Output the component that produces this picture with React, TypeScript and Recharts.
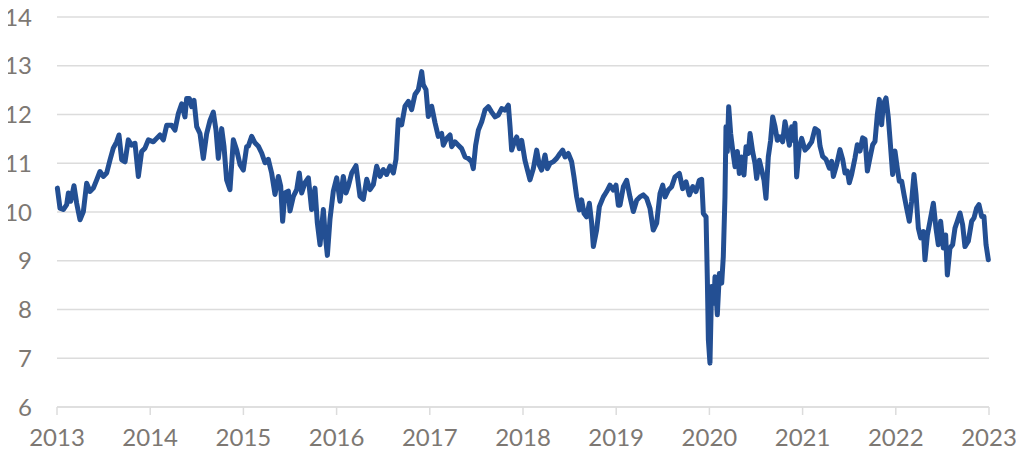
import React from 'react'
import { LineChart, Line, XAxis, YAxis, CartesianGrid } from 'recharts'

// Tick values
const yearTicks = [2013, 2014, 2015, 2016, 2017, 2018, 2019, 2020, 2021, 2022, 2023]
const valueTicks = [6, 7, 8, 9, 10, 11, 12, 13, 14]

// Series, [fractional year, value]
const seg2013: [number, number][] = [
  [2013.004, 10.49], [2013.032, 10.08], [2013.068, 10.05], [2013.104, 10.15], [2013.122, 10.39],
  [2013.147, 10.22], [2013.182, 10.54], [2013.211, 10.18], [2013.247, 9.84], [2013.283, 10.01],
  [2013.318, 10.59], [2013.354, 10.42], [2013.39, 10.49], [2013.426, 10.66], [2013.461, 10.83],
  [2013.497, 10.73], [2013.533, 10.8], [2013.569, 11.07], [2013.604, 11.31], [2013.64, 11.44],
  [2013.665, 11.58], [2013.694, 11.07], [2013.73, 11.03], [2013.765, 11.48], [2013.801, 11.37],
  [2013.837, 11.41], [2013.873, 10.73], [2013.908, 11.24], [2013.944, 11.31], [2013.98, 11.48],
]
const seg2014: [number, number][] = [
  [2014.034, 11.44], [2014.069, 11.51], [2014.105, 11.58], [2014.141, 11.48], [2014.177, 11.78],
  [2014.23, 11.78], [2014.266, 11.68], [2014.302, 12.02], [2014.338, 12.22], [2014.373, 11.95],
  [2014.391, 12.33], [2014.42, 12.33], [2014.445, 12.16], [2014.47, 12.29], [2014.499, 11.75],
  [2014.534, 11.61], [2014.57, 11.1], [2014.606, 11.61], [2014.642, 11.88], [2014.677, 12.05],
  [2014.706, 11.68], [2014.731, 11.1], [2014.767, 11.71], [2014.792, 11.34], [2014.82, 10.66],
  [2014.856, 10.46], [2014.892, 11.48], [2014.928, 11.27], [2014.964, 10.97], [2014.999, 10.86],
]
const seg2015: [number, number][] = [
  [2015.035, 11.34], [2015.053, 11.35], [2015.089, 11.55], [2015.124, 11.42], [2015.16, 11.35],
  [2015.196, 11.21], [2015.232, 11.01], [2015.267, 11.08], [2015.303, 10.8], [2015.339, 10.36],
  [2015.375, 10.73], [2015.4, 10.53], [2015.421, 9.81], [2015.446, 10.39], [2015.482, 10.43],
  [2015.5, 10.02], [2015.536, 10.32], [2015.572, 10.46], [2015.6, 10.8], [2015.625, 10.39],
  [2015.661, 10.6], [2015.697, 10.7], [2015.732, 10.05], [2015.768, 10.49], [2015.793, 9.78],
  [2015.822, 9.33], [2015.858, 10.05], [2015.876, 9.57], [2015.901, 9.11], [2015.929, 9.85],
  [2015.965, 10.43],
]
const seg2016: [number, number][] = [
  [2016.001, 10.7], [2016.036, 10.22], [2016.072, 10.73], [2016.101, 10.39], [2016.126, 10.53],
  [2016.162, 10.8], [2016.208, 10.95], [2016.251, 10.32], [2016.287, 10.26], [2016.323, 10.67],
  [2016.358, 10.46], [2016.394, 10.56], [2016.43, 10.94], [2016.466, 10.73], [2016.501, 10.87],
  [2016.537, 10.77], [2016.573, 10.94], [2016.609, 10.8], [2016.637, 11.08], [2016.662, 11.89],
  [2016.698, 11.79], [2016.734, 12.17], [2016.77, 12.27], [2016.805, 12.1], [2016.841, 12.41],
  [2016.877, 12.51], [2016.913, 12.88], [2016.93, 12.61], [2016.959, 12.51], [2016.984, 11.96],
]
const seg2017: [number, number][] = [
  [2017.02, 12.17], [2017.056, 11.83], [2017.091, 11.55], [2017.127, 11.61], [2017.145, 11.37],
  [2017.181, 11.51], [2017.217, 11.58], [2017.235, 11.34], [2017.27, 11.44], [2017.306, 11.37],
  [2017.342, 11.3], [2017.378, 11.13], [2017.413, 11.1], [2017.449, 11.03], [2017.467, 10.89],
  [2017.492, 11.37], [2017.521, 11.68], [2017.557, 11.85], [2017.592, 12.09], [2017.628, 12.16],
  [2017.664, 12.05], [2017.7, 11.95], [2017.735, 11.99], [2017.771, 12.12], [2017.807, 12.09],
  [2017.843, 12.19], [2017.861, 11.75], [2017.878, 11.27], [2017.903, 11.41], [2017.932, 11.54],
  [2017.961, 11.3], [2017.986, 11.47],
]
const seg2018: [number, number][] = [
  [2018.021, 11.06], [2018.057, 10.79], [2018.075, 10.66], [2018.111, 10.89], [2018.147, 11.27],
  [2018.175, 10.96], [2018.2, 10.86], [2018.236, 11.17], [2018.261, 10.89], [2018.29, 11.0],
  [2018.325, 11.03], [2018.361, 11.1], [2018.397, 11.2], [2018.426, 11.27], [2018.451, 11.13],
  [2018.486, 11.2], [2018.522, 11.03], [2018.547, 10.72], [2018.576, 10.31], [2018.604, 10.04],
  [2018.629, 10.25], [2018.655, 9.97], [2018.683, 9.9], [2018.712, 10.18], [2018.737, 9.77],
  [2018.755, 9.29], [2018.79, 9.63], [2018.819, 10.11], [2018.862, 10.31], [2018.898, 10.42],
  [2018.933, 10.55], [2018.969, 10.45], [2018.998, 10.55],
]
const seg2019: [number, number][] = [
  [2019.023, 10.14], [2019.041, 10.14], [2019.077, 10.52], [2019.112, 10.65], [2019.148, 10.31],
  [2019.184, 10.01], [2019.22, 10.24], [2019.255, 10.31], [2019.291, 10.35], [2019.327, 10.28],
  [2019.363, 10.07], [2019.398, 9.63], [2019.434, 9.77], [2019.47, 10.38], [2019.499, 10.55],
  [2019.524, 10.31], [2019.559, 10.45], [2019.595, 10.52], [2019.631, 10.72], [2019.678, 10.79],
  [2019.713, 10.48], [2019.749, 10.62], [2019.785, 10.35], [2019.821, 10.52], [2019.856, 10.42],
  [2019.892, 10.65], [2019.917, 10.67], [2019.935, 9.97], [2019.964, 9.9], [2019.978, 8.61],
  [2019.989, 7.38],
]
const seg2020: [number, number][] = [
  [2020.006, 6.9], [2020.024, 8.47], [2020.049, 8.13], [2020.06, 8.67], [2020.085, 7.89],
  [2020.107, 8.74], [2020.132, 8.54], [2020.149, 9.08], [2020.167, 10.31], [2020.178, 11.75],
  [2020.192, 11.24], [2020.207, 12.16], [2020.228, 11.61], [2020.25, 11.27], [2020.275, 10.93],
  [2020.3, 11.24], [2020.321, 10.79], [2020.346, 11.13], [2020.371, 10.76], [2020.393, 11.34],
  [2020.418, 11.2], [2020.436, 11.61], [2020.464, 11.24], [2020.489, 11.0], [2020.507, 10.69],
  [2020.536, 11.06], [2020.561, 10.86], [2020.586, 10.65], [2020.607, 10.28], [2020.632, 11.13],
  [2020.657, 11.47], [2020.679, 11.95], [2020.704, 11.75], [2020.729, 11.47], [2020.758, 11.54],
  [2020.786, 11.44], [2020.811, 11.85], [2020.836, 11.61], [2020.858, 11.37], [2020.883, 11.75],
  [2020.901, 11.47], [2020.918, 11.82], [2020.936, 10.72], [2020.965, 11.34], [2020.99, 11.51],
]
const seg2021: [number, number][] = [
  [2021.026, 11.27], [2021.061, 11.34], [2021.097, 11.44], [2021.133, 11.71], [2021.169, 11.66],
  [2021.187, 11.35], [2021.215, 11.14], [2021.251, 11.08], [2021.287, 10.9], [2021.312, 11.04],
  [2021.33, 10.73], [2021.365, 10.97], [2021.401, 11.28], [2021.43, 11.08], [2021.455, 10.8],
  [2021.48, 10.84], [2021.501, 10.6], [2021.526, 10.77], [2021.562, 11.11], [2021.587, 11.38],
  [2021.616, 11.25], [2021.644, 11.52], [2021.67, 11.49], [2021.695, 10.84], [2021.723, 11.11],
  [2021.752, 11.38], [2021.777, 11.45], [2021.802, 12.0], [2021.823, 12.31], [2021.848, 11.79],
  [2021.866, 12.21], [2021.895, 12.34], [2021.92, 11.93], [2021.938, 11.49], [2021.966, 10.77],
  [2021.991, 11.25],
]
const seg2022: [number, number][] = [
  [2022.016, 10.9], [2022.038, 10.63], [2022.063, 10.63], [2022.088, 10.36], [2022.116, 10.08],
  [2022.145, 9.81], [2022.17, 10.22], [2022.195, 10.77], [2022.217, 10.36], [2022.242, 9.67],
  [2022.267, 9.47], [2022.296, 9.6], [2022.313, 9.02], [2022.339, 9.53], [2022.367, 9.81],
  [2022.403, 10.18], [2022.431, 9.67], [2022.456, 9.33], [2022.481, 9.81], [2022.51, 9.26],
  [2022.535, 9.53], [2022.553, 8.71], [2022.581, 9.26], [2022.61, 9.33], [2022.635, 9.67],
  [2022.66, 9.81], [2022.689, 9.98], [2022.717, 9.74], [2022.742, 9.29], [2022.778, 9.4],
  [2022.814, 9.81], [2022.839, 9.88], [2022.867, 10.08], [2022.892, 10.15], [2022.921, 9.91],
  [2022.946, 9.91], [2022.968, 9.33], [2022.993, 9.02],
]

const segments = [seg2013, seg2014, seg2015, seg2016, seg2017, seg2018, seg2019, seg2020, seg2021, seg2022]
const data = segments.flat().map(([t, v]) => ({ t, v }))

const LINE_COLOR = '#234f93'
const GRID_COLOR = '#dcdcdc'
const TEXT_COLOR = '#7d7873'
const FONT = 'Lato, "Open Sans", sans-serif'

export default function App() {
  // cancel the default 8px body margin so the chart covers the full page
  return (
    <div style={{ width: 1024, height: 461, margin: '-8px 0 0 -8px' }}>
      <LineChart
        width={1024}
        height={461}
        data={data}
        margin={{ top: 17, right: 35, left: 8, bottom: 8 }}
      >
        <CartesianGrid vertical={false} stroke={GRID_COLOR} strokeWidth={1.5} />
        <XAxis
          dataKey="t"
          type="number"
          domain={[2013, 2023]}
          ticks={yearTicks}
          height={46}
          tickSize={8}
          tickMargin={14}
          stroke={GRID_COLOR}
          tick={{ fill: TEXT_COLOR, fontSize: 24, fontFamily: FONT }}
          axisLine={{ stroke: GRID_COLOR, strokeWidth: 1.5 }}
          tickLine={{ stroke: GRID_COLOR, strokeWidth: 1.5 }}
        />
        <YAxis
          type="number"
          domain={[6, 14]}
          ticks={valueTicks}
          width={49}
          tickMargin={19}
          axisLine={false}
          tickLine={false}
          tick={{ fill: TEXT_COLOR, fontSize: 24, fontFamily: FONT }}
        />
        <Line
          type="linear"
          dataKey="v"
          stroke={LINE_COLOR}
          strokeWidth={5}
          strokeLinejoin="round"
          strokeLinecap="round"
          dot={false}
          isAnimationActive={false}
        />
      </LineChart>
    </div>
  )
}
